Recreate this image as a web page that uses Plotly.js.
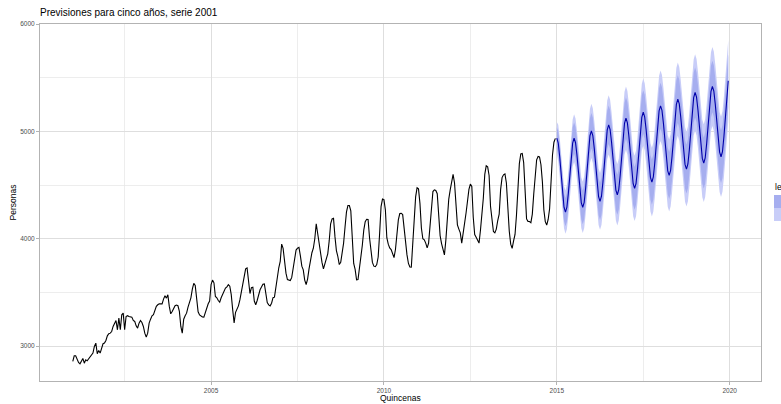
<!DOCTYPE html>
<html>
<head>
<meta charset="utf-8">
<script src="https://cdn.plot.ly/plotly-3.0.1.min.js"></script>
<style>
html, body { margin: 0; padding: 0; background: #ffffff; }
#chart { width: 781px; height: 404px; }
</style>
</head>
<body>
<div id="chart"></div>
<script>
// ---- Data ----
const startYear = 2001;      // fortnightly series ("Quincenas")
const frequency = 24;        // observations per year
const history = [
2857,2910,2910,2879,2848,2835,2863,2885,2841,2873,2863,2879,
2894,2910,2935,2997,3028,2929,2960,2935,2981,3022,3028,3053,
3096,3115,3121,3136,3183,3214,3239,3152,3261,3152,3292,3307,
3152,3276,3283,3276,3270,3270,3239,3230,3189,3168,3214,3239,
3220,3183,3121,3084,3121,3214,3251,3283,3292,3332,3370,3385,
3394,3394,3394,3438,3469,3447,3478,3370,3301,3323,3345,3376,
3382,3376,3323,3183,3121,3251,3283,3307,3363,3400,3450,3530,
3585,3565,3450,3320,3290,3280,3272,3270,3320,3370,3395,3420,
3574,3615,3590,3462,3450,3425,3410,3450,3478,3515,3540,3552,
3572,3558,3480,3340,3215,3315,3340,3375,3430,3505,3605,3645,
3720,3729,3600,3490,3545,3549,3420,3385,3425,3480,3525,3550,
3576,3580,3470,3405,3384,3375,3400,3452,3456,3555,3665,3730,
3790,3950,3910,3790,3680,3620,3612,3611,3640,3720,3830,3895,
3912,3920,3840,3745,3710,3615,3574,3625,3720,3815,3870,3912,
4000,4140,4050,3915,3860,3780,3720,3773,3810,3860,3980,4140,
4185,4190,4020,3890,3835,3760,3780,3865,3960,4110,4250,4310,
4310,4260,3990,3770,3715,3617,3620,3730,3800,3940,4080,4160,
4182,4180,4010,3855,3780,3745,3740,3760,3830,4050,4300,4370,
4365,4270,4010,3950,3915,3900,3865,3825,3900,4070,4176,4235,
4238,4225,4090,3920,3850,3770,3737,3735,3928,4150,4390,4475,
4465,4330,4100,4000,3990,3960,3915,3960,4100,4300,4440,4456,
4450,4420,4200,4030,3955,3910,3850,3990,4230,4370,4455,4540,
4600,4520,4310,4130,4090,4055,3959,4040,4120,4240,4350,4460,
4510,4487,4200,4040,4015,3990,3960,4080,4200,4380,4600,4680,
4670,4590,4300,4146,4068,4055,4090,4170,4230,4460,4570,4596,
4605,4520,4230,4070,3950,3910,3980,4040,4220,4480,4700,4790,
4795,4710,4430,4185,4162,4161,4150,4230,4420,4549,4736,4767,
4762,4690,4530,4270,4160,4128,4180,4280,4560,4780,4900,4935
];
const forecastStart = 2015;
const forecastMean = [
4938,4892,4766,4593,4421,4294,4248,4294,4421,4593,4766,4892,
4938,4895,4777,4615,4454,4335,4292,4340,4471,4649,4828,4958,
5006,4962,4842,4677,4513,4392,4348,4396,4527,4705,4884,5014,
5062,5018,4899,4736,4573,4454,4410,4458,4589,4767,4946,5076,
5124,5080,4960,4797,4633,4513,4469,4517,4647,4825,5002,5132,
5180,5136,5017,4854,4691,4572,4528,4576,4706,4884,5061,5191,
5239,5196,5077,4915,4752,4633,4590,4638,4768,4946,5123,5253,
5301,5257,5138,4975,4812,4693,4649,4697,4828,5006,5185,5315,
5363,5319,5199,5034,4870,4749,4705,4753,4884,5062,5241,5371,
5419,5375,5255,5092,4928,4808,4764,4812,4950,5140,5330,5472
];
const pi80Half = [
98,112,118,121,125,129,131,135,136,139,141,144,
146,148,150,151,153,155,156,158,159,161,163,164,
165,167,168,169,170,172,173,174,176,177,178,179,
180,182,182,184,185,185,187,188,189,190,191,192,
193,194,195,196,197,198,199,200,200,202,202,203,
204,205,206,207,208,208,210,210,211,212,213,214,
214,215,216,217,217,218,219,220,221,221,222,223,
223,225,225,226,227,227,228,229,229,230,231,232,
232,233,234,234,235,236,236,237,238,238,239,240,
240,241,242,242,243,244,244,245,246,246,247,247
];
const pi95Half = [
150,171,180,186,192,197,201,206,209,213,216,220,
223,226,229,231,234,237,239,242,244,246,249,251,
253,255,257,259,261,263,265,267,269,271,272,274,
276,278,279,281,283,284,286,288,289,291,292,294,
295,297,298,300,301,303,304,306,307,309,310,311,
313,314,315,317,318,319,321,322,323,324,326,327,
328,329,331,332,333,334,335,337,338,339,340,341,
342,344,345,346,347,348,349,350,351,352,354,355,
356,357,358,359,360,361,362,363,364,365,366,367,
368,369,370,371,372,373,374,375,376,377,378,379
];
const xTickVals = [2005, 2010, 2015, 2020];
const xMinorVals = [2002.5, 2007.5, 2012.5, 2017.5];
const yTickVals = [3000, 4000, 5000, 6000];
const yMinorVals = [3500, 4500, 5500];
const levelNames = ['80', '95'];

// ---- Build traces ----
const tHist = history.map((_, i) => startYear + i / frequency);
const tFc = forecastMean.map((_, k) => forecastStart + k / frequency);
const lo95 = forecastMean.map((m, k) => m - pi95Half[k]);
const hi95 = forecastMean.map((m, k) => m + pi95Half[k]);
const lo80 = forecastMean.map((m, k) => m - pi80Half[k]);
const hi80 = forecastMean.map((m, k) => m + pi80Half[k]);

const col95 = '#c8cdf8';
const col80 = '#a6aeef';

const traces = [
  { x: tFc, y: lo95, type: 'scatter', mode: 'lines', line: { width: 0, color: col95 }, hoverinfo: 'skip', showlegend: false },
  { x: tFc, y: hi95, type: 'scatter', mode: 'lines', fill: 'tonexty', fillcolor: col95, line: { width: 0, color: col95 }, name: levelNames[1], showlegend: false },
  { x: tFc, y: lo80, type: 'scatter', mode: 'lines', line: { width: 0, color: col80 }, hoverinfo: 'skip', showlegend: false },
  { x: tFc, y: hi80, type: 'scatter', mode: 'lines', fill: 'tonexty', fillcolor: col80, line: { width: 0, color: col80 }, name: levelNames[0], showlegend: false },
  { x: tHist, y: history, type: 'scatter', mode: 'lines', line: { color: '#000000', width: 1.1 }, showlegend: false },
  { x: tFc, y: forecastMean, type: 'scatter', mode: 'lines', line: { color: '#0000aa', width: 1.1 }, showlegend: false }
];

const W = 781, H = 404;
const mL = 40, mR = 20, mT = 24, mB = 23;
const pw = W - mL - mR, ph = H - mT - mB;
const px = v => (v - mL) / pw;        // page px -> paper x
const py = v => (H - mB - v) / ph;    // page px -> paper y

const axisCommon = {
  showgrid: true, gridcolor: '#dedede', gridwidth: 1,
  zeroline: false, showline: true, mirror: true,
  linecolor: '#b3b3b3', linewidth: 1,
  ticks: 'outside', ticklen: 3, tickwidth: 1, tickcolor: '#b3b3b3',
  tickfont: { size: 6.5, color: '#4d4d4d', family: 'Liberation Sans, Arial, sans-serif' },
  tickmode: 'array'
};

const layout = {
  width: W, height: H,
  margin: { l: mL, r: mR, t: mT, b: mB, autoexpand: false },
  paper_bgcolor: '#ffffff', plot_bgcolor: '#ffffff',
  showlegend: false,
  font: { family: 'Liberation Sans, Arial, sans-serif', color: '#000000' },
  title: {
    text: 'Previsiones para cinco años, serie 2001',
    xref: 'container', yref: 'container',
    x: mL / W, xanchor: 'left',
    y: 1 - 12 / H, yanchor: 'middle',
    font: { size: 10, color: '#000000' }
  },
  xaxis: Object.assign({}, axisCommon, {
    range: [2000.052, 2020.906],
    tickvals: xTickVals, ticktext: xTickVals.map(String),
    minor: { tickmode: 'array', tickvals: xMinorVals, showgrid: true, gridcolor: '#e6e6e6', gridwidth: 0.7, ticks: '' }
  }),
  yaxis: Object.assign({}, axisCommon, {
    range: [2675, 6001],
    tickvals: yTickVals, ticktext: yTickVals.map(String),
    minor: { tickmode: 'array', tickvals: yMinorVals, showgrid: true, gridcolor: '#e6e6e6', gridwidth: 0.7, ticks: '' }
  }),
  annotations: [
    { text: 'Quincenas', xref: 'paper', yref: 'paper', x: 0.5, y: py(398), xanchor: 'center', yanchor: 'middle', showarrow: false, font: { size: 8.5, color: '#000000' } },
    { text: 'Personas', xref: 'paper', yref: 'paper', x: px(12), y: 0.5, xanchor: 'center', yanchor: 'middle', textangle: -90, showarrow: false, font: { size: 8.5, color: '#000000' } },
    { text: 'level', xref: 'paper', yref: 'paper', x: px(773), y: py(187), xanchor: 'left', yanchor: 'middle', showarrow: false, font: { size: 8.5, color: '#000000' } }
  ],
  shapes: [
    { type: 'rect', xref: 'paper', yref: 'paper', x0: px(774), x1: px(792), y0: py(208), y1: py(195), fillcolor: col80, line: { width: 0 } },
    { type: 'rect', xref: 'paper', yref: 'paper', x0: px(774), x1: px(792), y0: py(221), y1: py(208), fillcolor: col95, line: { width: 0 } }
  ]
};

Plotly.newPlot('chart', traces, layout, { staticPlot: true, displayModeBar: false });
</script>
</body>
</html>
